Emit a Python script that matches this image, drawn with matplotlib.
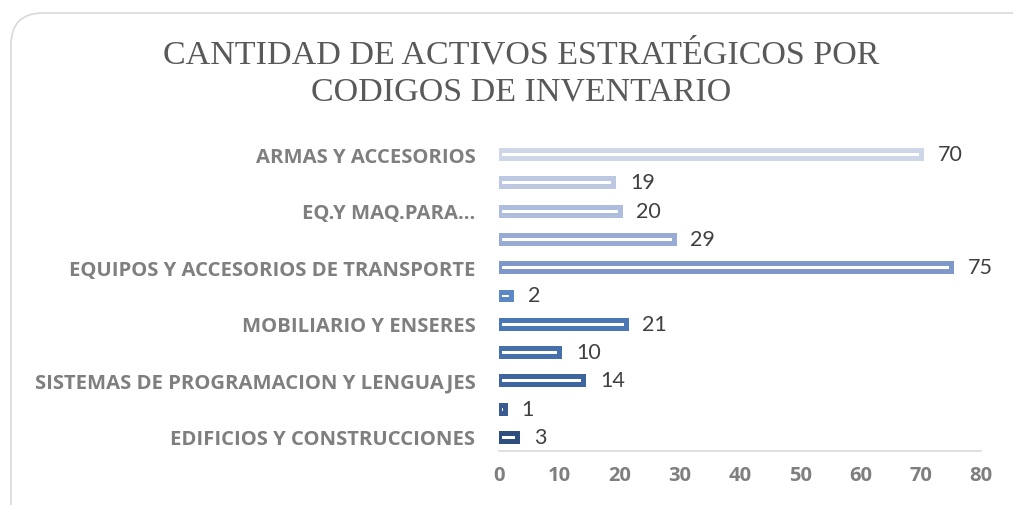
import matplotlib
matplotlib.use("Agg")
import matplotlib.pyplot as plt
from matplotlib.patches import FancyBboxPatch

# Data (bottom to top)
categories = [
    "EDIFICIOS Y CONSTRUCCIONES", "", "SISTEMAS DE PROGRAMACION Y LENGUAJES", "",
    "MOBILIARIO Y ENSERES", "", "EQUIPOS Y ACCESORIOS DE TRANSPORTE", "",
    "EQ.Y MAQ.PARA...", "", "ARMAS Y ACCESORIOS",
]
values = [3, 1, 14, 10, 21, 2, 75, 29, 20, 19, 70]
colors = ["#2E4F7E", "#3A5C92", "#3E65A0", "#4570AB", "#4A78B5", "#5B87C5",
          "#7F98C9", "#97ABD4", "#AEBCDD", "#BCC7E1", "#CED7E8"]
xticks = [0, 10, 20, 30, 40, 50, 60, 70, 80]

W, H = 1013, 506
fig = plt.figure(figsize=(W / 100, H / 100), dpi=100)
fig.patch.set_facecolor("white")

# rounded border
border = FancyBboxPatch((11, -40), 1060, 532, boxstyle="round,pad=0,rounding_size=32",
                        transform=None, facecolor="none", edgecolor="#D9D9D9", linewidth=1.2)
fig.patches.append(border)

ax = fig.add_axes([499 / W, 1 - 452 / H, 482 / W, (452 - 141) / H])
ypos = list(range(len(values)))
ax.barh(ypos, values, height=0.28, color="white", edgecolor=colors, linewidth=3.6)
for y, v in zip(ypos, values):
    ax.annotate(str(v), (v, y), xytext=(12, 0), textcoords="offset points",
                va="center", ha="left", fontsize=15.5, color="#404040",
                family="Lato")

ax.set_xlim(0, 80)
ax.set_ylim(-0.5, len(values) - 0.5)
ax.set_xticks(xticks)
ax.set_xticklabels([str(t) for t in xticks], fontsize=14.5, fontweight="bold",
                   color="#7F7F7F", family="Open Sans")
ax.set_yticks(ypos)
ax.set_yticklabels(categories, fontsize=14.6, fontweight="bold", color="#7F7F7F",
                   family="Open Sans")
ax.tick_params(axis="both", length=0)
ax.tick_params(axis="y", pad=17)
ax.tick_params(axis="x", pad=10)
for s in ["top", "right", "left"]:
    ax.spines[s].set_visible(False)
ax.spines["bottom"].set_color("#D9D9D9")
ax.spines["bottom"].set_linewidth(1.2)

fig.text(521 / W, 1 - 55 / H, "CANTIDAD DE ACTIVOS ESTRATÉGICOS POR", ha="center", va="center",
         fontsize=24.5, color="#595959", family="Liberation Serif")
fig.text(521 / W, 1 - 92 / H, "CODIGOS DE INVENTARIO", ha="center", va="center",
         fontsize=24.5, color="#595959", family="Liberation Serif")

fig.savefig("out.png", dpi=100, facecolor="white")
